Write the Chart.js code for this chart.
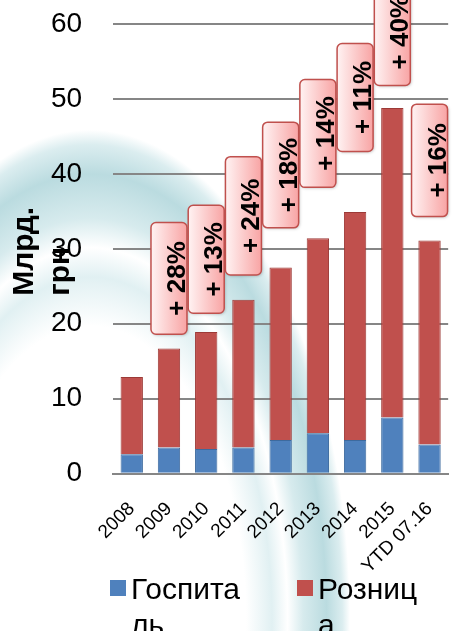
<!DOCTYPE html>
<html lang="ru">

<head>
    <meta charset="UTF-8">
    <script src="https://cdn.jsdelivr.net/npm/chart.js@4.4.0/dist/chart.umd.min.js"></script>
    <title>Млрд. грн</title>
    <style>
        html, body { margin: 0; padding: 0; }
        body {
            width: 462px;
            height: 631px;
            overflow: hidden;
            position: relative;
            font-family: "Liberation Sans", Arial, sans-serif;
            background:
                radial-gradient(ellipse 260px 490px at 90px 620px, rgba(255,255,255,0) 60%, rgba(200,228,232,0.55) 70%, rgba(255,255,255,0.3) 76%, rgba(175,215,220,0.5) 82%, rgba(130,190,198,0.55) 91%, rgba(165,210,216,0.4) 97%, rgba(255,255,255,0) 100%),
                #fff;
        }
        #wrap { position: absolute; left: 0; top: 0; width: 462px; height: 631px; }
        #legend { position: absolute; left: 110px; top: 571px; }
        .item { position: absolute; top: 0; font-size: 30px; line-height: 36px; color: #000; }
        .item .sw { position: absolute; left: 0; top: 9px; width: 16px; height: 16px; }
        .item .tx { position: absolute; left: 21px; top: 0; width: 111px; word-break: break-all; }
    </style>
</head>

<body>
    <div id="wrap"><canvas id="chart" width="462" height="631"></canvas></div>
    <div id="legend"></div>
</body>

</html>
<script>
    // dados do grafico
    var categorias = ["2008", "2009", "2010", "2011", "2012", "2013", "2014", "2015", "YTD 07.16"];
    var gospital = [2.6, 3.5, 3.3, 3.5, 4.5, 5.4, 4.5, 7.5, 3.9];
    var roznica = [10.3, 13.2, 15.6, 19.7, 23.0, 26.0, 30.4, 41.3, 27.2];
    var nomesSeries = ["Госпиталь", "Розница"];
    var yTicks = [0, 10, 20, 30, 40, 50, 60];

    // caixas de crescimento (+%) - base e topo em mlrd
    var crescimento = [null, "+ 28%", "+ 13%", "+ 24%", "+ 18%", "+ 14%", "+ 11%", "+ 40%", "+ 16%"];
    var caixaBase = [null, 18.6, 21.4, 26.5, 32.8, 38.2, 43.0, 51.8, 34.3];
    var caixaTopo = [null, 33.5, 35.8, 42.3, 46.9, 52.6, 57.4, 66.0, 49.3];

    var tituloY = ["Млрд.", "грн"];

    var azul = "#4F81BD", vermelho = "#C0504D";

    // caixinhas rosas com o percentual
    var caixasPlugin = {
        id: "caixas",
        afterDatasetsDraw: function (chart) {
            var ctx = chart.ctx;
            var xs = chart.scales.x, ys = chart.scales.y;
            ctx.save();
            for (var i = 0; i < crescimento.length; i++) {
                if (!crescimento[i]) continue;
                var cx = xs.getPixelForValue(i);
                var w = 36;
                var x0 = cx - w / 2;
                var yb = ys.getPixelForValue(caixaBase[i]);
                var yt = ys.getPixelForValue(caixaTopo[i]);
                var g = ctx.createLinearGradient(x0, 0, x0 + w, 0);
                g.addColorStop(0, "#fff3f3");
                g.addColorStop(1, "#f8a4a4");
                ctx.shadowColor = "rgba(0,0,0,0.25)";
                ctx.shadowBlur = 3;
                ctx.shadowOffsetX = 1;
                ctx.shadowOffsetY = 1;
                ctx.beginPath();
                ctx.roundRect(x0, yt, w, yb - yt, 5);
                ctx.fillStyle = g;
                ctx.fill();
                ctx.shadowColor = "transparent";
                ctx.lineWidth = 1.5;
                ctx.strokeStyle = "#c0504d";
                ctx.stroke();

                ctx.save();
                ctx.translate(x0 + w - 2, (yt + yb) / 2);
                ctx.rotate(-Math.PI / 2);
                ctx.font = "bold 26px 'Liberation Sans', Arial, sans-serif";
                ctx.fillStyle = "#000";
                ctx.textAlign = "center";
                ctx.textBaseline = "alphabetic";
                ctx.fillText(crescimento[i], 0, 0);
                ctx.restore();
            }
            ctx.restore();
        }
    };

    // titulo do eixo Y em duas linhas, alinhado por baixo
    var tituloPlugin = {
        id: "tituloY",
        afterDraw: function (chart) {
            var ctx = chart.ctx, a = chart.chartArea;
            ctx.save();
            ctx.font = "bold 30px 'Liberation Sans', Arial, sans-serif";
            ctx.fillStyle = "#000";
            ctx.textAlign = "left";
            var yStart = (a.top + a.bottom) / 2 + 47;
            var bases = [a.left - 80, a.left - 44];
            for (var k = 0; k < tituloY.length; k++) {
                ctx.save();
                ctx.translate(bases[k], yStart);
                ctx.rotate(-Math.PI / 2);
                ctx.fillText(tituloY[k], 0, 0);
                ctx.restore();
            }
            ctx.restore();
        }
    };

    var ctx = document.getElementById("chart").getContext("2d");

    var config = {
        type: "bar",
        data: {
            labels: categorias,
            datasets: [
                {
                    label: nomesSeries[0],
                    data: gospital,
                    backgroundColor: azul,
                    borderColor: "#3d6a9e",
                    borderWidth: 1,
                    categoryPercentage: 1.0,
                    barPercentage: 0.6,
                },
                {
                    label: nomesSeries[1],
                    data: roznica,
                    backgroundColor: vermelho,
                    borderColor: "#9c3a37",
                    borderWidth: 1,
                    categoryPercentage: 1.0,
                    barPercentage: 0.6,
                },
            ],
        },
        options: {
            responsive: false,
            animation: false,
            layout: { padding: { left: 51, right: 6, top: 24, bottom: 37 } },
            plugins: { legend: { display: false }, tooltip: { enabled: false } },
            scales: {
                x: {
                    stacked: true,
                    grid: { display: false },
                    border: { display: true, color: "#868686", width: 2 },
                    ticks: {
                        color: "#000",
                        font: { family: "'Liberation Sans', Arial, sans-serif", size: 19 },
                        minRotation: 45,
                        maxRotation: 45,
                        autoSkip: false,
                        padding: 16,
                    },
                },
                y: {
                    stacked: true,
                    min: 0,
                    max: 60,
                    afterBuildTicks: function (axis) {
                        axis.ticks = yTicks.map(function (v) { return { value: v }; });
                    },
                    grid: { color: "#868686", lineWidth: 2, drawTicks: true, tickLength: 31, tickColor: "rgba(0,0,0,0)" },
                    border: { display: false },
                    ticks: {
                        color: "#000",
                        font: { family: "'Liberation Sans', Arial, sans-serif", size: 28 },
                        padding: 0,
                    },
                },
            },
        },
        plugins: [caixasPlugin, tituloPlugin],
    };

    var grafico = new Chart(ctx, config);

    // legenda em html (texto quebra como no original)
    var leg = document.getElementById("legend");
    var posX = [0, 187];
    config.data.datasets.forEach(function (ds, i) {
        var it = document.createElement("div");
        it.className = "item";
        it.style.left = posX[i] + "px";
        it.innerHTML = '<span class="sw" style="background:' + ds.backgroundColor + '"></span><span class="tx">' + ds.label + "</span>";
        leg.appendChild(it);
    });
</script>
